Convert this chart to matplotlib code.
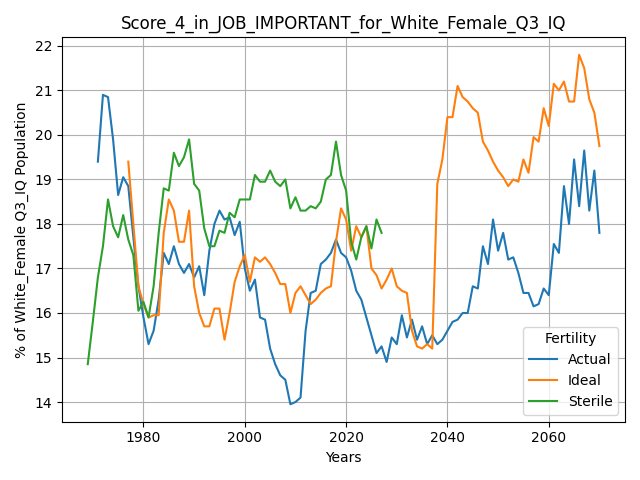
import matplotlib
matplotlib.use("Agg")
import matplotlib.pyplot as plt

actual_start = 1971
actual = [19.4,20.9,20.85,19.9,18.65,19.05,18.85,17.7,16.6,15.9,15.3,15.6,16.3,17.35,17.1,17.5,17.1,16.9,17.1,16.8,
          17.05,16.4,17.4,18.0,18.3,18.1,18.15,17.75,18.05,17.0,16.5,16.75,15.9,15.85,15.2,14.85,14.6,14.5,13.95,14.0,
          14.1,15.6,16.45,16.5,17.1,17.2,17.35,17.65,17.35,17.25,16.95,16.5,16.3,15.9,15.5,15.1,15.25,14.9,15.45,15.3,
          15.95,15.45,15.85,15.4,15.7,15.3,15.5,15.3,15.4,15.6,15.8,15.85,16.0,16.0,16.6,16.55,17.5,17.1,18.1,17.4,
          17.8,17.2,17.25,16.9,16.45,16.45,16.15,16.2,16.55,16.4,17.55,17.35,18.85,18.0,19.45,18.4,19.65,18.3,19.2,17.8]
ideal_start = 1977
ideal = [19.4,18.0,16.6,16.2,15.9,15.95,15.95,17.8,18.55,18.3,17.6,17.6,18.3,16.6,16.0,15.7,15.7,16.1,16.1,15.4,
         16.0,16.7,17.05,17.3,16.7,17.25,17.15,17.25,17.1,16.9,16.65,16.65,16.0,16.45,16.6,16.4,16.2,16.3,16.45,16.55,
         16.6,17.6,18.35,18.1,17.4,17.95,17.7,17.95,17.0,16.85,16.55,16.75,17.0,16.6,16.5,16.45,15.6,15.25,15.2,15.3,
         15.2,18.9,19.45,20.4,20.4,21.1,20.85,20.75,20.6,20.5,19.85,19.65,19.4,19.2,19.05,18.85,19.0,18.95,19.45,19.15,
         19.95,19.85,20.6,20.2,21.15,21.0,21.2,20.75,20.75,21.8,21.5,20.8,20.5,19.75]
sterile_start = 1969
sterile = [14.85,15.8,16.8,17.5,18.55,17.95,17.7,18.2,17.65,17.3,16.05,16.25,15.9,16.6,17.8,18.8,18.75,19.6,19.3,19.5,
           19.9,18.9,18.75,17.9,17.5,17.5,17.85,17.8,18.25,18.15,18.55,18.55,18.55,19.1,18.95,18.95,19.2,18.95,18.85,19.0,
           18.35,18.6,18.3,18.3,18.4,18.35,18.5,19.0,19.1,19.85,19.1,18.75,17.6,17.2,17.7,17.95,17.45,18.1,17.8]

fig, ax = plt.subplots(figsize=(6.4, 4.8), dpi=100)
for name, start, vals in [("Actual", actual_start, actual), ("Ideal", ideal_start, ideal), ("Sterile", sterile_start, sterile)]:
    ax.plot(range(start, start + len(vals)), vals, label=name)
ax.set_title("Score_4_in_JOB_IMPORTANT_for_White_Female_Q3_IQ")
ax.set_xlabel("Years")
ax.set_ylabel("% of White_Female Q3_IQ Population")
ax.grid(True)
ax.legend(title="Fertility", loc="lower right")
fig.tight_layout()
fig.savefig("out.png")
